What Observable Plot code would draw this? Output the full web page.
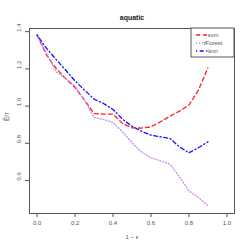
<!DOCTYPE html>
<html><head><meta charset="utf-8">
<script src="https://cdn.jsdelivr.net/npm/d3@7"></script>
<script src="https://cdn.jsdelivr.net/npm/@observablehq/plot@0.6"></script>
<style>body{margin:0;background:#fff}</style>
</head><body><div id="chart"></div>
<script>
const xs = [0,0.05,0.1,0.15,0.2,0.25,0.3,0.35,0.4,0.45,0.5,0.55,0.6,0.65,0.7,0.75,0.8,0.85,0.9];
const svm = [1.382,1.274,1.203,1.149,1.10,1.032,0.96,0.957,0.957,0.907,0.883,0.882,0.889,0.916,0.946,0.973,1.005,1.086,1.206];
const rForest = [1.382,1.283,1.185,1.149,1.108,1.032,0.939,0.928,0.912,0.862,0.803,0.754,0.722,0.706,0.688,0.620,0.544,0.509,0.464];
const knn = [1.382,1.31,1.251,1.194,1.135,1.086,1.038,1.014,0.982,0.930,0.892,0.865,0.844,0.835,0.826,0.781,0.749,0.776,0.808];
const seriesNames = ["svm","rForest","knn"];
const xTicks = [0,0.2,0.4,0.6,0.8,1.0];
const yTicks = [0.6,0.8,1.0,1.2,1.4];

const styles = {
  svm: {stroke:"#ff2020", dash:"4,3"},
  rForest: {stroke:"#c58af5", dash:"1,2"},
  knn: {stroke:"#1010ff", dash:"1.2,2.5,4,2.5"}
};
const table = [];
const vals = {svm, rForest, knn};
for (const s of seriesNames) xs.forEach((x,i)=>table.push({series:s, x, y:vals[s][i]}));

const font = "Liberation Sans, Arial, sans-serif";

function legendMark(index, scales, values, dims) {
  const g = d3.create("svg:g");
  const x1 = dims.width - dims.marginRight, y0 = dims.marginTop;
  const w = 43, h = 29;
  g.append("rect").attr("x", x1 - w).attr("y", y0).attr("width", w).attr("height", h)
    .attr("fill","white").attr("stroke","#555").attr("stroke-width",1);
  seriesNames.forEach((s,i)=>{
    const yy = y0 + 7 + i*8;
    g.append("line").attr("x1", x1-w+5).attr("x2", x1-w+17).attr("y1", yy).attr("y2", yy)
      .attr("stroke", styles[s].stroke).attr("stroke-width",1.3).attr("stroke-dasharray", styles[s].dash);
    g.append("text").attr("x", x1-w+22).attr("y", yy).attr("dy","0.35em")
      .attr("font-size", 6).attr("font-family", font).attr("fill","#555").text(s);
  });
  return g.node();
}

const marks = [
  Plot.frame({stroke:"#555", strokeWidth:1}),
  ...seriesNames.map(s => Plot.line(table.filter(d=>d.series===s), {
    x:"x", y:"y", stroke: styles[s].stroke, strokeWidth:1.3, strokeDasharray: styles[s].dash
  })),
  Plot.axisX(xTicks, {tickSize:4, tickPadding:3, tickFormat: d=>d.toFixed(1), fontSize:6, stroke:"#555", color:"#555", label:null}),
  Plot.axisY(yTicks, {tickSize:4, tickFormat: ()=>"", stroke:"#555", label:null}),
  Plot.text(yTicks, {y: d=>d, frameAnchor:"left", dx:-10, rotate:-90, text: d=>d.toFixed(1), fontSize:6, fill:"#555"}),
  Plot.text(["aquatic"], {frameAnchor:"top", dy:-13, text: d=>d, fontWeight:"bold", fontSize:7, fill:"#222"}),
  Plot.text(["1 \u2212 \u03b5"], {frameAnchor:"bottom", dy:25, text: d=>d, fontSize:6, fill:"#555"}),
  Plot.text(["\u00cArr"], {frameAnchor:"left", dx:-23, rotate:-90, text: d=>d, fontSize:6.5, fill:"#555"}),
  legendMark
];

const chart = Plot.plot({
  width:249, height:249,
  marginLeft:29, marginRight:15, marginTop:28, marginBottom:36,
  style:{fontFamily:font, background:"white"},
  x:{domain:[-0.04,1.04], axis:null},
  y:{domain:[0.423,1.417], axis:null},
  marks
});
document.getElementById("chart").appendChild(chart);
</script></body></html>
